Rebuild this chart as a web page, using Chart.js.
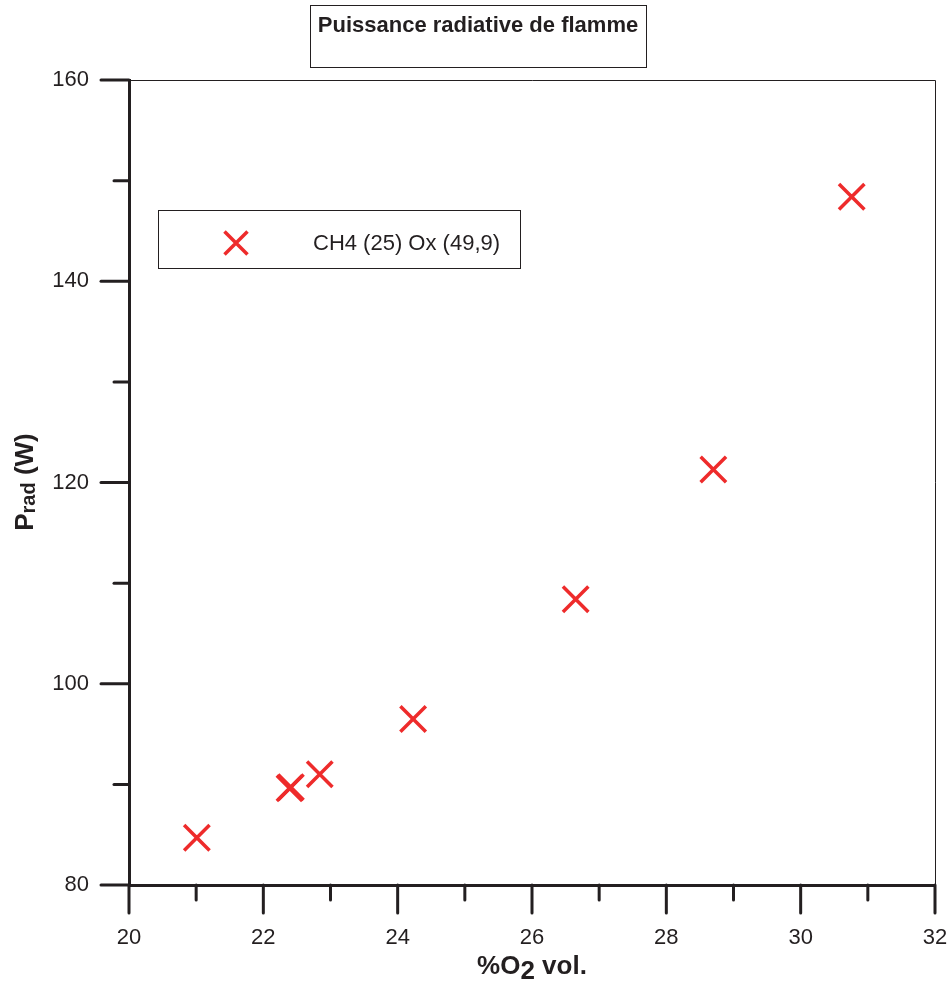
<!DOCTYPE html>
<html>
<head>
<meta charset="utf-8">
<script src="https://cdn.jsdelivr.net/npm/chart.js@4"></script>
<style>
  html, body { margin: 0; padding: 0; background: #fff; }
  #wrap { width: 950px; height: 981px; }
</style>
</head>
<body>
<div id="wrap"><canvas id="myChart" width="950" height="981"></canvas></div>
<script>
var o2Vol = [21.01, 22.39, 22.41, 22.84, 24.23, 26.65, 28.70, 30.76];
var pRad = [84.7, 89.62, 89.72, 91.0, 96.5, 108.4, 121.3, 148.4];
var seriesLabel = "CH4 (25) Ox (49,9)";
var chartTitle = "Puissance radiative de flamme";

var INK = "#231f20";
var RED = "#ee2b2b";
var FONT = "'Liberation Sans', Arial, sans-serif";

// frame, custom ticks, axis titles, title box and legend box
var decor = {
  id: "decor",
  afterDraw: function (chart) {
    var ctx = chart.ctx;
    var a = chart.chartArea;
    var xs = chart.scales.x, ys = chart.scales.y;
    ctx.save();

    // thin top / right frame
    ctx.strokeStyle = INK;
    ctx.lineWidth = 1;
    ctx.beginPath();
    ctx.moveTo(a.left, a.top + 0.5);
    ctx.lineTo(a.right + 0.5, a.top + 0.5);
    ctx.lineTo(a.right + 0.5, a.bottom);
    ctx.stroke();

    // tick marks (major long, minor short)
    ctx.lineWidth = 3;
    ctx.lineCap = "round";
    xs.ticks.forEach(function (t) {
      var px = xs.getPixelForValue(t.value);
      var len = (Math.round(t.value) % 2 === 0) ? 28 : 15;
      ctx.beginPath();
      ctx.moveTo(px, a.bottom);
      ctx.lineTo(px, a.bottom + len);
      ctx.stroke();
    });
    ys.ticks.forEach(function (t) {
      var py = ys.getPixelForValue(t.value);
      var len = (Math.round(t.value) % 20 === 0) ? 28 : 15;
      ctx.beginPath();
      ctx.moveTo(a.left, py);
      ctx.lineTo(a.left - len, py);
      ctx.stroke();
    });

    // x title: %O2 vol.
    ctx.fillStyle = INK;
    ctx.textBaseline = "alphabetic";
    ctx.textAlign = "left";
    ctx.font = "bold 26px " + FONT;
    var w1 = ctx.measureText("%O").width;
    var w2 = ctx.measureText("2").width;
    var w3 = ctx.measureText(" vol.").width;
    var x0 = (a.left + a.right) / 2 - (w1 + w2 + w3) / 2;
    var by = 974;
    ctx.fillText("%O", x0, by);
    ctx.fillText("2", x0 + w1, by + 5);
    ctx.fillText(" vol.", x0 + w1 + w2, by);

    // y title: Prad (W)
    ctx.save();
    ctx.translate(33, 482);
    ctx.rotate(-Math.PI / 2);
    ctx.font = "bold 26px " + FONT;
    var p1 = ctx.measureText("P").width;
    ctx.font = "bold 20px " + FONT;
    var p2 = ctx.measureText("rad").width;
    ctx.font = "bold 26px " + FONT;
    var p3 = ctx.measureText(" (W)").width;
    var sx = -(p1 + p2 + p3) / 2;
    ctx.fillText("P", sx, 0);
    ctx.font = "bold 20px " + FONT;
    ctx.fillText("rad", sx + p1, 2);
    ctx.font = "bold 26px " + FONT;
    ctx.fillText(" (W)", sx + p1 + p2, 0);
    ctx.restore();

    // title box
    ctx.lineWidth = 1;
    ctx.strokeStyle = INK;
    ctx.strokeRect(310.5, 5.5, 336, 62);
    ctx.font = "bold 22px " + FONT;
    ctx.textAlign = "center";
    ctx.textBaseline = "middle";
    ctx.fillText(chartTitle, 478, 26);

    // legend box
    ctx.strokeRect(158.5, 210.5, 362, 58);
    ctx.strokeStyle = RED;
    ctx.lineWidth = 3.5;
    ctx.lineCap = "butt";
    var cx = 236, cy = 243, r = 11.5;
    ctx.beginPath();
    ctx.moveTo(cx - r, cy - r); ctx.lineTo(cx + r, cy + r);
    ctx.moveTo(cx + r, cy - r); ctx.lineTo(cx - r, cy + r);
    ctx.stroke();
    ctx.font = "22px " + FONT;
    ctx.textAlign = "left";
    ctx.fillStyle = INK;
    ctx.fillText(seriesLabel, 313, 244);

    ctx.restore();
  }
};

var points = o2Vol.map(function (v, i) { return { x: v, y: pRad[i] }; });

var config = {
  type: "scatter",
  data: {
    datasets: [
      {
        label: seriesLabel,
        data: points,
        pointStyle: "crossRot",
        pointRadius: 18,
        pointHoverRadius: 18,
        pointBorderWidth: 3.5,
        borderColor: RED,
        backgroundColor: RED,
      },
    ],
  },
  options: {
    responsive: false,
    animation: false,
    layout: { autoPadding: false, padding: { top: 80, right: 15, left: 0, bottom: 0 } },
    plugins: {
      legend: { display: false },
      title: { display: false },
      tooltip: { enabled: false },
    },
    scales: {
      x: {
        type: "linear",
        min: 20,
        max: 32,
        afterFit: function (s) {
          s.height = 96;
          s.paddingLeft = 0;
          s.paddingRight = 0;
        },
        ticks: {
          stepSize: 1,
          padding: 12,
          color: INK,
          font: { family: FONT, size: 22 },
          maxRotation: 0,
          autoSkip: false,
          callback: function (v) { return v % 2 === 0 ? v : ""; },
        },
        grid: { drawOnChartArea: false, drawTicks: true, tickLength: 28, color: "rgba(0,0,0,0)" },
        border: { display: true, width: 3, color: INK },
      },
      y: {
        type: "linear",
        min: 80,
        max: 160,
        afterFit: function (s) {
          s.width = 129;
          s.paddingTop = 0;
          s.paddingBottom = 0;
        },
        ticks: {
          stepSize: 10,
          padding: 12,
          color: INK,
          font: { family: FONT, size: 22 },
          autoSkip: false,
          callback: function (v) { return v % 20 === 0 ? v : ""; },
        },
        grid: { drawOnChartArea: false, drawTicks: true, tickLength: 28, color: "rgba(0,0,0,0)" },
        border: { display: true, width: 3, color: INK },
      },
    },
  },
  plugins: [decor],
};

var myChart = document.getElementById("myChart").getContext("2d");
var chart1 = new Chart(myChart, config);
</script>
</body>
</html>
